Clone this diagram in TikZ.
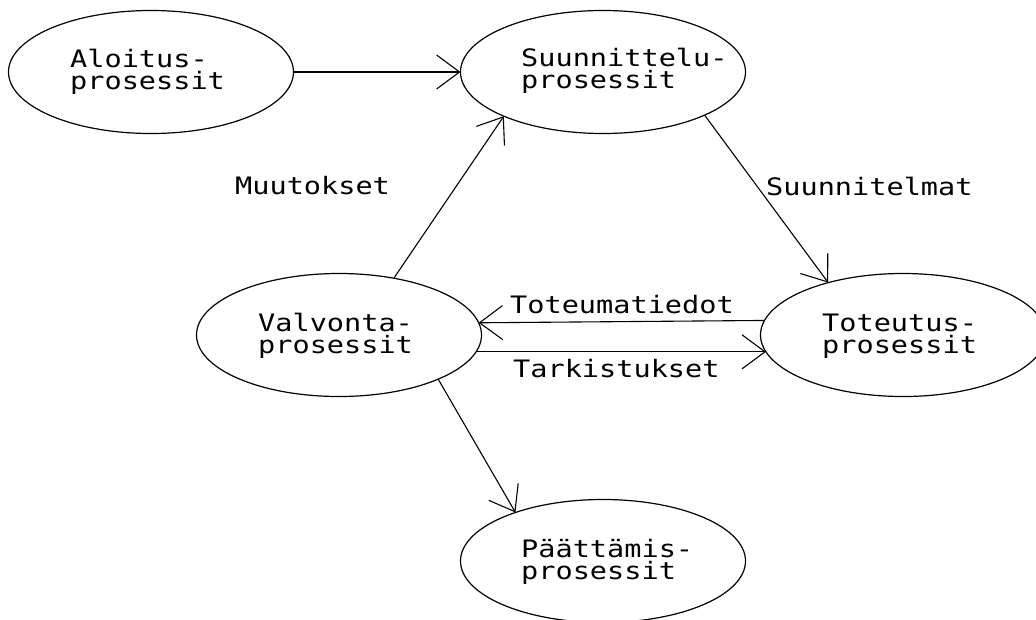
\documentclass[tikz,border=0pt]{standalone}
\usepackage{fontspec}
\usepackage{graphicx}
\setmonofont{DejaVu Sans Mono}
\usetikzlibrary{shapes.geometric,arrows.meta}

% plotter-style lettering: a mono face stretched a little sideways
\newcommand\cadtext[1]{\scalebox{1.19}[1]{#1}}
\newcommand\twolines[2]{\scalebox{1.19}[1]{\vtop{\baselineskip=22.5pt\lineskiplimit=-100pt\hbox{#1}\hbox{#2}}}}

\begin{document}
\begin{tikzpicture}[x=1pt,y=-1pt,
  proc/.style={ellipse, draw, line width=1.2pt, minimum width=285pt,
               minimum height=123pt, inner sep=0pt, outer sep=0pt},
  txt/.style={anchor=base west, inner sep=0pt,
              font=\ttfamily\fontsize{24}{22.5}\selectfont},
  flow/.style={line width=1.1pt, -{Straight Barb[length=23pt,width=34pt]}}
]
\useasboundingbox (0,0) rectangle (1036,619);
\fill[white] (0,0) rectangle (1036,619);
\clip (0,0) rectangle (1036,619);

% process groups
\node[proc] (ap) at (151,72)  {};
\node[proc] (sp) at (603,72)  {};
\node[proc] (vp) at (339,335) {};
\node[proc] (tp) at (903,335) {};
\node[proc] (pp) at (603,561) {};

\node[txt] (apt) at (70,67)   {\twolines{Aloitus-}{prosessit}};
\node[txt] (spt) at (521,66)  {\twolines{Suunnittelu-}{prosessit}};
\node[txt] (vpt) at (258,331) {\twolines{Valvonta-}{prosessit}};
\node[txt] (tpt) at (822,331) {\twolines{Toteutus-}{prosessit}};
\node[txt] (ppt) at (521,557) {\twolines{Päättämis-}{prosessit}};

% flows between the groups
\draw[flow] (ap.east) -- (sp.west);
\draw[flow] (vp.46) -- (sp.204.2);
\draw[flow] (sp.337) -- (tp.145.6);
\draw[flow] (tp.174.25) -- (vp.5.75);
\draw[flow] (vp.-7.1) -- (tp.187.1);
\draw[flow] (vp.-24) -- (pp.151.9);

% flow labels
\node[txt] (muu) at (235,194) {\cadtext{Muutokset}};
\node[txt] (suu) at (766,195) {\cadtext{Suunnitelmat}};
\node[txt] (tot) at (510,313) {\cadtext{Toteumatiedot}};
\node[txt] (tar) at (513,377) {\cadtext{Tarkistukset}};
\end{tikzpicture}
\end{document}
